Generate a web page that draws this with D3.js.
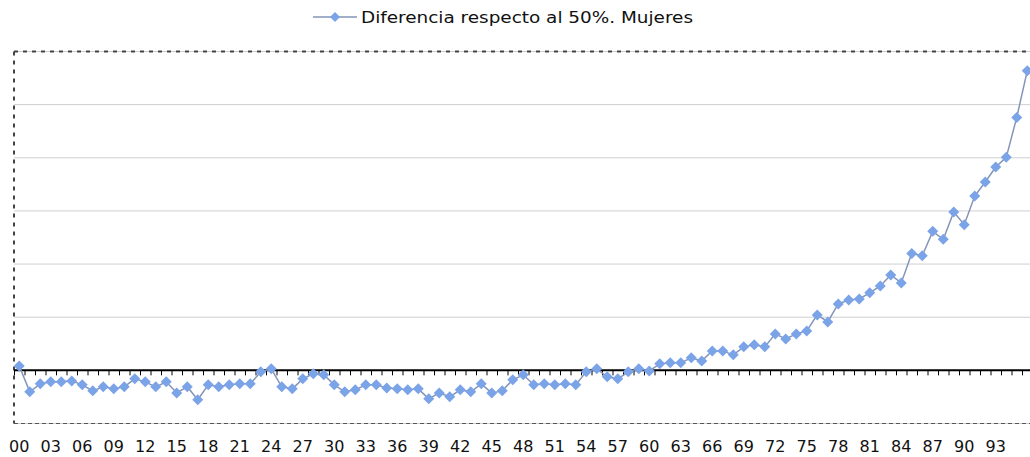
<!DOCTYPE html>
<html>
<head>
<meta charset="utf-8">
<script src="https://cdn.jsdelivr.net/npm/d3@7"></script>
<style>
  body { margin: 0; background: #fff; }
  svg { display: block; font-family: 'DejaVu Sans', Verdana, sans-serif; }
</style>
</head>
<body>
<div class="chart"></div>
<script>
// edades 0..96, etiquetas de dos cifras
const ages = d3.range(0, 97);
const tickLabels = d3.range(0, 94, 3).map(d => String(d).padStart(2, '0'));
const seriesName = 'Diferencia respecto al 50%. Mujeres';
// valores (puntos porcentuales)
const values = [
  0.42, -2.02, -1.27, -1.08, -1.08, -0.99, -1.36, -1.93, -1.55, -1.74,
  -1.55, -0.80, -1.08, -1.55, -1.08, -2.12, -1.55, -2.77, -1.36, -1.55,
  -1.36, -1.27, -1.27, -0.14, 0.14, -1.55, -1.74, -0.80, -0.33, -0.42,
  -1.36, -2.02, -1.83, -1.36, -1.36, -1.65, -1.74, -1.83, -1.74, -2.68,
  -2.12, -2.49, -1.83, -2.02, -1.27, -2.12, -1.93, -0.89, -0.42, -1.36,
  -1.27, -1.36, -1.27, -1.36, -0.14, 0.14, -0.61, -0.80, -0.14, 0.14,
  -0.05, 0.61, 0.71, 0.71, 1.18, 0.89, 1.83, 1.83, 1.46, 2.21,
  2.40, 2.21, 3.43, 2.96, 3.43, 3.71, 5.22, 4.56, 6.25, 6.63,
  6.72, 7.29, 7.94, 8.98, 8.23, 11.00, 10.79, 13.08, 12.33, 14.90,
  13.71, 16.40, 17.72, 19.13, 20.04, 23.80, 28.18
];
const yTicks = [-5, 0, 5, 10, 15, 20, 25, 30];

const data = ages.map((a, i) => ({age: a, value: values[i]}));

const width = 1030, height = 457;
const svg = d3.select('.chart').append('svg')
  .attr('width', width).attr('height', height);

const x = d3.scaleBand().domain(ages).range([14, 14 + 97 * 10.5]);
const y = d3.scaleLinear().domain([-5, 30]).range([423.5, 51.5]);
const cx = d => x(d) + x.bandwidth() / 2;

// gridlines
svg.append('g').selectAll('line')
  .data(yTicks.filter(d => d !== 0))
  .join('line')
  .attr('x1', 14).attr('x2', width)
  .attr('y1', d => y(d)).attr('y2', d => y(d))
  .attr('stroke', '#cfcfcf').attr('stroke-width', 1);

// borde superior punteado
svg.append('line')
  .attr('x1', 14).attr('x2', width)
  .attr('y1', y(30)).attr('y2', y(30))
  .attr('stroke', '#444').attr('stroke-width', 2)
  .attr('stroke-dasharray', '4,5');

// borde inferior punteado
svg.append('line')
  .attr('x1', 14).attr('x2', width)
  .attr('y1', y(-5)).attr('y2', y(-5))
  .attr('stroke', '#555').attr('stroke-width', 1.2)
  .attr('stroke-dasharray', '4,3');

// eje izquierdo punteado
svg.append('line')
  .attr('x1', 14).attr('x2', 14)
  .attr('y1', y(30)).attr('y2', y(-5))
  .attr('stroke', '#444').attr('stroke-width', 2)
  .attr('stroke-dasharray', '4,5');

// eje x en el cero con marcas hacia abajo
svg.append('g').selectAll('line')
  .data(ages.concat([97]))
  .join('line')
  .attr('x1', d => 14 + d * 10.5 + 0.5).attr('x2', d => 14 + d * 10.5 + 0.5)
  .attr('y1', y(0)).attr('y2', y(0) + 5)
  .attr('stroke', '#000').attr('stroke-width', 1);
svg.append('line')
  .attr('x1', 14).attr('x2', width)
  .attr('y1', y(0)).attr('y2', y(0))
  .attr('stroke', '#000').attr('stroke-width', 2);

// etiquetas del eje x
svg.append('g').selectAll('text')
  .data(tickLabels)
  .join('text')
  .attr('x', d => cx(+d))
  .attr('y', 452)
  .attr('text-anchor', 'middle')
  .style('font-size', '16px')
  .style('fill', '#111')
  .text(d => d);

// serie
const line = d3.line().x(d => cx(d.age)).y(d => y(d.value));
svg.append('path')
  .datum(data)
  .attr('d', line)
  .attr('fill', 'none')
  .attr('stroke', '#8494b8')
  .attr('stroke-width', 1.5);

const diamond = 'M0,-5.5L5.5,0L0,5.5L-5.5,0Z';
svg.append('g').selectAll('path')
  .data(data)
  .join('path')
  .attr('d', diamond)
  .attr('transform', d => `translate(${cx(d.age)},${y(d.value)})`)
  .attr('fill', '#7ba3e8');

// leyenda
const legend = svg.append('g').attr('transform', 'translate(313,17)');
legend.append('line').attr('x1', 0).attr('x2', 44).attr('y1', 0).attr('y2', 0)
  .attr('stroke', '#8494b8').attr('stroke-width', 1.5);
legend.append('path').attr('d', 'M0,-5L5,0L0,5L-5,0Z')
  .attr('transform', 'translate(22,0)').attr('fill', '#7ba3e8');
legend.append('text').attr('x', 48).attr('y', 6)
  .attr('textLength', 332).attr('lengthAdjust', 'spacingAndGlyphs')
  .style('font-size', '16px').style('fill', '#111')
  .text(seriesName);
</script>
</body>
</html>
